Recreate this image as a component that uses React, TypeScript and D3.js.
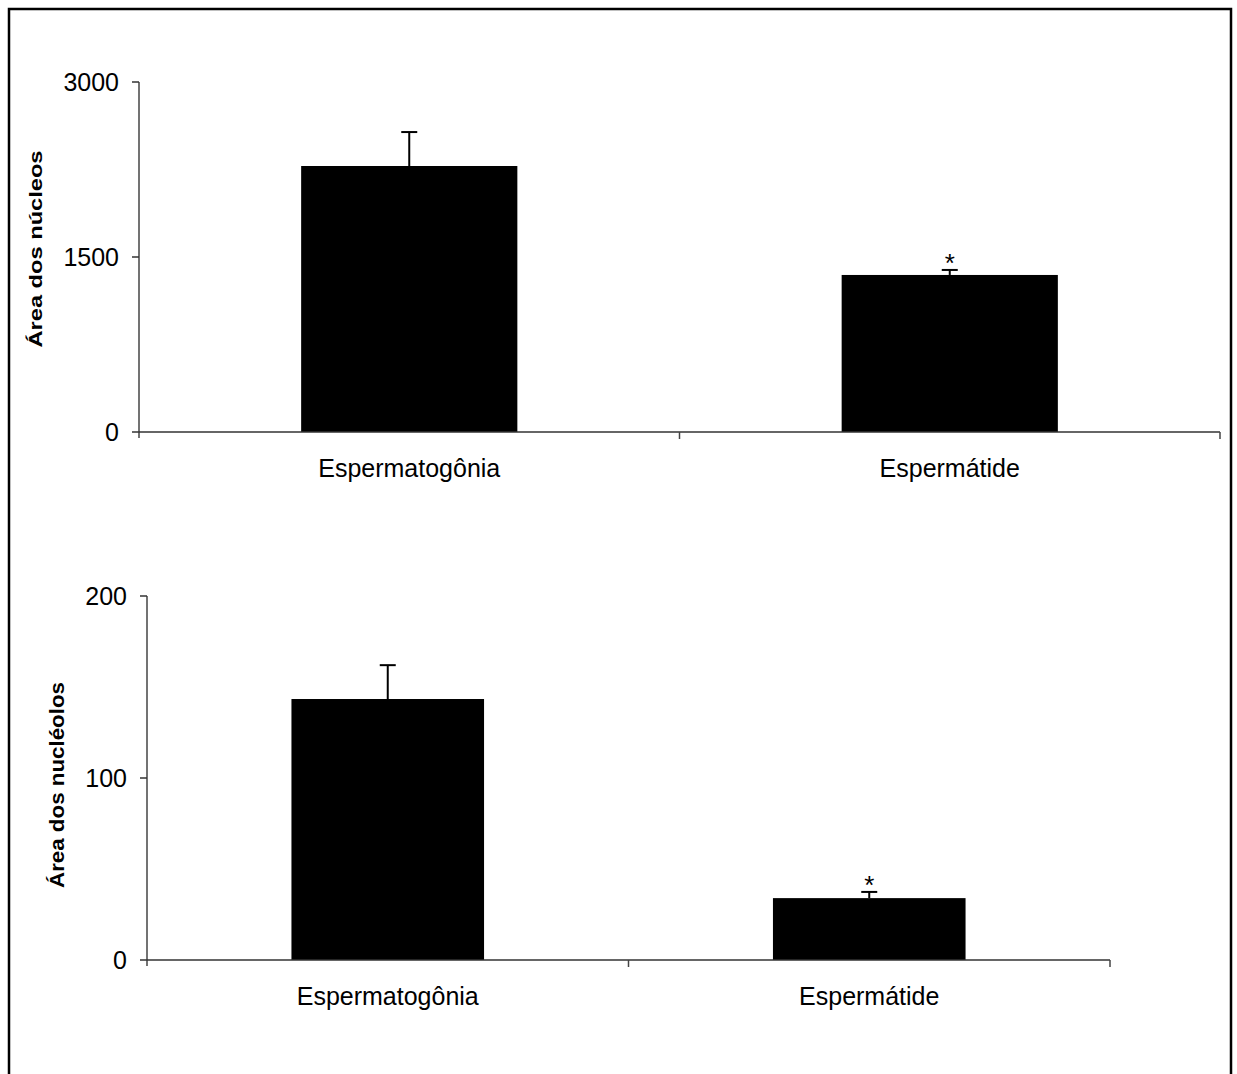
import React, { useEffect, useRef } from 'react';
import * as d3 from 'd3';

const categories = ['Espermatogônia', 'Espermátide'];

const nucleosMeans = [2280, 1346];
const nucleosErrors = [291, 43];
const nucleosTicks = [0, 1500, 3000];

const nucleolosMeans = [143.4, 34];
const nucleolosErrors = [18.6, 3.4];
const nucleolosTicks = [0, 100, 200];

const significant = [false, true];

const FONT = 'Liberation Sans, Arial, Helvetica, sans-serif';

const drawPanel = (svg, opts) => {
  const { x0, x1, yTop, yBottom, max, ticks, means, errors, label, labelX, labelSize, labelLen } = opts;
  const g = svg.append('g');

  const x = d3.scaleBand().domain(categories).range([x0, x1]).paddingInner(0.6).paddingOuter(0.3);
  const xAxisScale = d3.scaleBand().domain(categories).range([x0, x1]);
  const y = d3.scaleLinear().domain([0, max]).range([yBottom, yTop]);

  // bars
  g.selectAll('rect.bar')
    .data(means)
    .enter()
    .append('rect')
    .attr('x', (d, i) => x(categories[i]))
    .attr('y', (d) => y(d))
    .attr('width', x.bandwidth())
    .attr('height', (d) => y(0) - y(d))
    .attr('fill', '#000');

  // error bars (upper half only) + significance mark
  means.forEach((m, i) => {
    const cx = x(categories[i]) + x.bandwidth() / 2;
    const top = y(m + errors[i]);
    g.append('line')
      .attr('x1', cx).attr('x2', cx)
      .attr('y1', y(m)).attr('y2', top)
      .attr('stroke', '#000').attr('stroke-width', 2);
    g.append('line')
      .attr('x1', cx - 8).attr('x2', cx + 8)
      .attr('y1', top).attr('y2', top)
      .attr('stroke', '#000').attr('stroke-width', 2);
    if (significant[i]) {
      g.append('text')
        .attr('x', cx)
        .attr('y', top + 2)
        .attr('text-anchor', 'middle')
        .attr('font-family', FONT)
        .attr('font-size', 26)
        .text('*');
    }
  });

  // y axis
  g.append('line')
    .attr('x1', x0).attr('x2', x0)
    .attr('y1', yTop).attr('y2', yBottom + 6)
    .attr('stroke', '#444').attr('stroke-width', 1.5);
  ticks.forEach((t) => {
    g.append('line')
      .attr('x1', x0 - 7).attr('x2', x0)
      .attr('y1', y(t)).attr('y2', y(t))
      .attr('stroke', '#333').attr('stroke-width', 1.5);
    g.append('text')
      .attr('x', x0 - 20)
      .attr('y', y(t))
      .attr('dy', '0.36em')
      .attr('text-anchor', 'end')
      .attr('font-family', FONT)
      .attr('font-size', 25)
      .text(t);
  });

  // x axis
  g.append('line')
    .attr('x1', x0).attr('x2', x1)
    .attr('y1', yBottom).attr('y2', yBottom)
    .attr('stroke', '#333').attr('stroke-width', 1.5);
  categories.forEach((c) => {
    const tx = xAxisScale(c) + xAxisScale.bandwidth();
    g.append('line')
      .attr('x1', tx).attr('x2', tx)
      .attr('y1', yBottom).attr('y2', yBottom + 7)
      .attr('stroke', '#444').attr('stroke-width', 1.5);
    g.append('text')
      .attr('x', x(c) + x.bandwidth() / 2)
      .attr('y', yBottom + 45)
      .attr('text-anchor', 'middle')
      .attr('font-family', FONT)
      .attr('font-size', 25)
      .text(c);
  });

  // y label
  g.append('text')
    .attr('transform', `translate(${labelX}, ${opts.labelY}) rotate(-90)`)
    .attr('text-anchor', 'middle')
    .attr('font-family', FONT)
    .attr('font-weight', 'bold')
    .attr('font-size', labelSize)
    .attr('textLength', labelLen)
    .attr('lengthAdjust', 'spacingAndGlyphs')
    .text(label);
};

const App = () => {
  const svgRef = useRef();

  useEffect(() => {
    const svg = d3.select(svgRef.current);
    svg.selectAll('*').remove();

    svg.append('rect')
      .attr('x', 0).attr('y', 0).attr('width', 1237).attr('height', 1074)
      .attr('fill', '#fff');

    // frame
    svg.append('rect')
      .attr('x', 9).attr('y', 9).attr('width', 1222).attr('height', 1080)
      .attr('fill', 'none').attr('stroke', '#000').attr('stroke-width', 2.5);

    drawPanel(svg, {
      x0: 139, x1: 1220, yTop: 82, yBottom: 432, max: 3000,
      ticks: nucleosTicks, means: nucleosMeans, errors: nucleosErrors,
      label: 'Área dos núcleos', labelX: 42, labelY: 249, labelSize: 19, labelLen: 197,
    });

    drawPanel(svg, {
      x0: 147, x1: 1110, yTop: 596, yBottom: 960, max: 200,
      ticks: nucleolosTicks, means: nucleolosMeans, errors: nucleolosErrors,
      label: 'Área dos nucléolos', labelX: 64, labelY: 785, labelSize: 20, labelLen: 206,
    });
  }, []);

  return (
    <svg
      ref={svgRef}
      width={1237}
      height={1074}
      style={{ position: 'absolute', left: 0, top: 0 }}
    />
  );
};

export default App;
